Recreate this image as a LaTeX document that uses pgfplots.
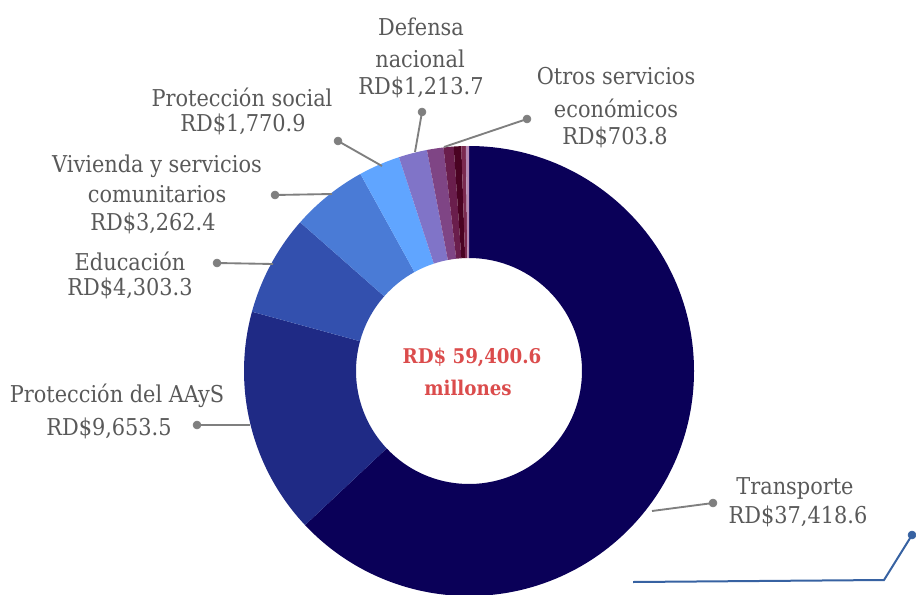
\documentclass[border=0pt]{standalone}
\usepackage{pgfplots}
\usepackage{pgfplotstable}
\pgfplotsset{compat=1.18}
\usepackage{fontspec}
\IfFontExistsTF{DejaVu Serif Condensed}{\setmainfont{DejaVu Serif Condensed}}{\setmainfont{DejaVu Serif}}

\definecolor{labelgrey}{HTML}{595959}
\definecolor{leadgrey}{HTML}{7F7F7F}
\definecolor{totalred}{HTML}{DB4C4C}
\definecolor{deco}{HTML}{3762A2}
\definecolor{cT}{HTML}{0A0058}
\definecolor{cA}{HTML}{1F2A85}
\definecolor{cE}{HTML}{3350AE}
\definecolor{cV}{HTML}{4A7BD6}
\definecolor{cP}{HTML}{60A5FF}
\definecolor{cD}{HTML}{8074C8}
\definecolor{cO}{HTML}{7F4585}
\definecolor{cSa}{HTML}{6A1E4C}
\definecolor{cSb}{HTML}{4A0322}
\definecolor{cSc}{HTML}{7A2A50}
\definecolor{cSd}{HTML}{B58AB5}

% gasto por funcion, millones de RD$ (last four slices have no label)
\pgfplotstableread{
value col
37418.6 cT
9653.5 cA
4303.3 cE
3262.4 cV
1770.9 cP
1213.7 cD
703.8 cO
430.0 cSa
320.0 cSb
190.0 cSc
134.4 cSd
}\slices

\newcommand{\lab}[3]{\node[anchor=base,text=labelgrey,font=\fontsize{17.4}{20}\selectfont] at (axis cs:#1,#2) {#3};}

\begin{document}
\begin{tikzpicture}
\begin{axis}[
  scale only axis,
  width=687pt, height=446.25pt,
  xmin=0, xmax=916, ymin=0, ymax=595,
  y dir=reverse,
  hide axis,
  clip=false]

  % donut: center (469,371), outer 225 px, inner 113 px (1 px = 0.75pt)
  \pgfplotsextra{
    \pgfplotstablegetrowsof{\slices}
    \pgfmathtruncatemacro\nlast{\pgfplotsretval-1}
    \xdef\acur{90}
    \foreach \i in {0,...,\nlast}{
      \pgfplotstablegetelem{\i}{value}\of\slices \let\sval\pgfplotsretval
      \pgfplotstablegetelem{\i}{col}\of\slices \let\scol\pgfplotsretval
      \edef\aend{\fpeval{round(\acur-\sval/59400.6*360,4)}}
      \fill[\scol] ([shift={(\acur:168.75pt)}]axis cs:469,371)
        arc[start angle=\acur, end angle=\aend, radius=168.75pt]
        -- ([shift={(\aend:84.75pt)}]axis cs:469,371)
        arc[start angle=\aend, end angle=\acur, radius=84.75pt] -- cycle;
      \xdef\acur{\aend}
    }
  }

  % leader lines
  \addplot[leadgrey, line width=1.4pt] coordinates {(197,425) (250,425)};
  \addplot[leadgrey, line width=1.4pt] coordinates {(217,263) (273,264)};
  \addplot[leadgrey, line width=1.4pt] coordinates {(275,195) (332,194)};
  \addplot[leadgrey, line width=1.4pt] coordinates {(338,141) (382,166)};
  \addplot[leadgrey, line width=1.4pt] coordinates {(422,112) (415,152)};
  \addplot[leadgrey, line width=1.4pt] coordinates {(527,119) (444,147)};
  \addplot[leadgrey, line width=1.4pt] coordinates {(713,503) (652,511)};
  \addplot[only marks, mark=*, mark size=3pt, leadgrey] coordinates {
    (197,425) (217,263) (275,195) (338,141) (422,112) (527,119) (713,503)};

  % decorative line bottom right
  \addplot[deco, line width=1.5pt] coordinates {(633,582) (884,580) (912,535)};
  \addplot[only marks, mark=*, mark size=3pt, deco] coordinates {(912,535)};

  \lab{421}{36}{Defensa}
  \lab{420}{68}{nacional}
  \lab{421}{95}{RD\$1,213.7}
  \lab{616}{85}{Otros servicios}
  \lab{616}{118}{económicos}
  \lab{615}{145}{RD\$703.8}
  \lab{242}{107}{Protección social}
  \lab{243}{132}{RD\$1,770.9}
  \lab{157}{173}{Vivienda y servicios}
  \lab{157}{203}{comunitarios}
  \lab{153}{230}{RD\$3,262.4}
  \lab{130}{270}{Educación}
  \lab{130}{295}{RD\$4,303.3}
  \lab{117}{402}{Protección del AAyS}
  \lab{109}{435}{RD\$9,653.5}
  \lab{795}{494}{Transporte}
  \lab{798}{523}{RD\$37,418.6}

  \node[anchor=base,text=totalred,font=\bfseries\fontsize{15.2}{18}\selectfont]
    at (axis cs:472,363) {RD\$ 59,400.6};
  \node[anchor=base,text=totalred,font=\bfseries\fontsize{15.2}{18}\selectfont]
    at (axis cs:468,395) {millones};
\end{axis}
\pgfresetboundingbox
\useasboundingbox (0,0) rectangle (687pt,446.25pt);
\end{tikzpicture}
\end{document}
